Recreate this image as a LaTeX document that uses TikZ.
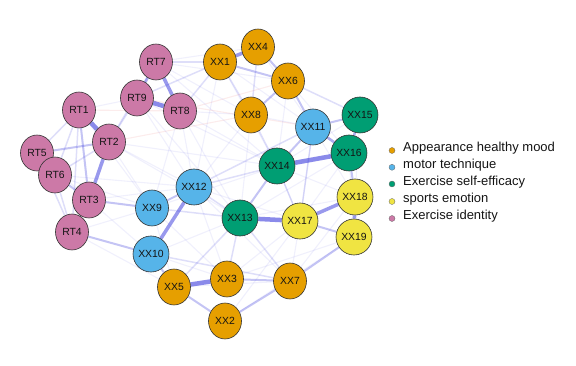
\documentclass[tikz,border=0pt]{standalone}
\usepackage{fontspec}
\setmainfont{Liberation Sans}
\usetikzlibrary{shapes.geometric}
\pgfdeclarelayer{background}
\pgfsetlayers{background,main}
\definecolor{cO}{HTML}{E69F00}
\definecolor{cB}{HTML}{56B4E9}
\definecolor{cG}{HTML}{009E73}
\definecolor{cY}{HTML}{F0E442}
\definecolor{cP}{HTML}{CC79A7}
\definecolor{edgeblue}{RGB}{60,60,220}
\definecolor{edgered}{RGB}{225,70,70}
\definecolor{txt}{RGB}{20,20,20}
\begin{document}
\begin{tikzpicture}[x=1pt,y=-1pt,
  nd/.style={ellipse, draw=black!80, line width=0.6pt, minimum width=33pt, minimum height=36pt,
    inner sep=0pt, text=txt, font=\fontsize{10.4}{11}\selectfont},
  nO/.style={nd, fill=cO}, nB/.style={nd, fill=cB}, nG/.style={nd, fill=cG},
  nY/.style={nd, fill=cY}, nP/.style={nd, fill=cP},
  e5/.style={draw=edgeblue, line width=4.5pt, draw opacity=0.6},
  e4/.style={draw=edgeblue, line width=3.5pt, draw opacity=0.52},
  e3/.style={draw=edgeblue, line width=2.6pt, draw opacity=0.42},
  e2/.style={draw=edgeblue, line width=2pt, draw opacity=0.3},
  e1/.style={draw=edgeblue, line width=1.5pt, draw opacity=0.17},
  e0/.style={draw=edgeblue, line width=1.1pt, draw opacity=0.08},
  er/.style={draw=edgered, line width=1.1pt, draw opacity=0.1},
  ldot/.style={circle, draw=black!60, line width=0.3pt, minimum size=6pt, inner sep=0pt},
  ltxt/.style={anchor=west, inner sep=0pt, text=txt, font=\fontsize{13}{14}\selectfont}]
\useasboundingbox (0,0) rectangle (576,366);
% nodes
\node[nP] (RT7) at (156,62) {RT7};
\node[nP] (RT9) at (137,98) {RT9};
\node[nP] (RT8) at (180,111) {RT8};
\node[nP] (RT1) at (79,110) {RT1};
\node[nP] (RT2) at (109,142) {RT2};
\node[nP] (RT5) at (37,153) {RT5};
\node[nP] (RT6) at (55,175) {RT6};
\node[nP] (RT3) at (89,200) {RT3};
\node[nP] (RT4) at (72,232) {RT4};
\node[nO] (XX4) at (258,47) {XX4};
\node[nO] (XX1) at (220,62) {XX1};
\node[nO] (XX6) at (288,81) {XX6};
\node[nO] (XX8) at (251,115) {XX8};
\node[nB] (XX11) at (313,127) {XX11};
\node[nG] (XX15) at (360,115) {XX15};
\node[nG] (XX16) at (349,153) {XX16};
\node[nG] (XX14) at (277,166) {XX14};
\node[nY] (XX18) at (355,197) {XX18};
\node[nB] (XX12) at (194,187) {XX12};
\node[nB] (XX9) at (152,208) {XX9};
\node[nG] (XX13) at (240,218) {XX13};
\node[nY] (XX17) at (300,221) {XX17};
\node[nY] (XX19) at (354,237) {XX19};
\node[nB] (XX10) at (151,254) {XX10};
\node[nO] (XX5) at (174,287) {XX5};
\node[nO] (XX3) at (227,279) {XX3};
\node[nO] (XX7) at (290,281) {XX7};
\node[nO] (XX2) at (225,321) {XX2};
% edges
\begin{pgfonlayer}{background}
\foreach \a/\b in {RT3/XX12, RT6/XX12, RT2/XX12, RT8/XX8, RT8/XX14, RT9/XX12, RT7/XX8,
  XX1/XX14, XX4/XX11, XX8/XX11, XX14/XX17, XX14/XX18, XX16/XX17, XX11/XX17, XX13/XX16,
  XX12/XX17, XX9/XX5, XX9/XX3, XX10/XX3, XX12/XX3, XX3/XX17, XX7/XX17, XX2/XX19, XX7/XX18,
  XX15/XX18, XX15/XX14, RT2/XX9, RT8/XX12, RT8/XX13, RT7/XX6, RT1/XX9, RT5/RT3, RT4/XX5,
  RT3/XX10, XX1/XX11, XX6/XX16, XX8/XX13, XX8/XX12, RT9/XX14, RT2/XX14, RT6/XX9, RT1/RT9,
  RT7/XX4, XX1/XX12, XX2/XX17, XX3/XX19, XX10/XX13, XX9/XX14, XX12/XX7, RT4/XX9, RT8/XX9,
  XX6/XX14, XX11/XX18, XX16/XX19, XX13/XX18, XX5/XX7, RT9/XX13, RT7/XX14, RT2/XX13}
  \draw[e0] (\a) -- (\b);
\foreach \a/\b in {RT2/RT9, RT2/RT7, RT6/RT2, RT1/RT6, RT5/RT4, RT6/RT4, RT1/RT5, RT7/XX1,
  XX12/XX14, XX9/XX13, XX12/XX13, XX13/XX7, XX10/XX7, XX5/XX13, XX1/XX8, XX6/XX15,
  XX8/XX14, XX12/XX11, XX3/XX13, RT1/RT4, RT9/XX1, RT8/XX1, XX14/XX17, XX11/XX17, XX4/XX8}
  \draw[e1] (\a) -- (\b);
\foreach \a/\b in {XX4/XX6, XX1/XX6, XX6/XX8, XX6/XX11, XX11/XX15, XX11/XX14, XX16/XX18,
  XX17/XX19, XX13/XX14, XX9/XX12, XX10/XX5, XX5/XX2, XX3/XX7, XX2/XX7, XX7/XX19,
  RT3/XX9, RT4/XX10, RT1/RT3, RT5/RT2, RT3/RT4, RT5/RT6, RT6/RT3}
  \draw[e2] (\a) -- (\b);
\foreach \a/\b in {RT7/RT9, XX15/XX16, XX11/XX16}
  \draw[e3] (\a) -- (\b);
\foreach \a/\b in {RT7/RT8, XX10/XX12, XX1/XX4, XX18/XX19, XX17/XX18, RT2/RT3}
  \draw[e4] (\a) -- (\b);
\foreach \a/\b in {RT9/RT8, RT1/RT2, XX5/XX3, XX13/XX17, XX14/XX16}
  \draw[e5] (\a) -- (\b);
\foreach \a/\b in {RT1/RT8, RT8/XX6, RT9/XX11, RT2/XX8}
  \draw[er] (\a) -- (\b);
\end{pgfonlayer}
% legend
\node[ldot, fill=cO] (d1) at (392,150.5) {};
\node[ldot, fill=cB] (d2) at (392,167.3) {};
\node[ldot, fill=cG] (d3) at (392,184) {};
\node[ldot, fill=cY] (d4) at (392,201.5) {};
\node[ldot, fill=cP] (d5) at (392,218.5) {};
\node[ltxt] (l1) at (403,148.5) {Appearance healthy mood};
\node[ltxt] (l2) at (403,165.3) {motor technique};
\node[ltxt] (l3) at (403,182) {Exercise self-efficacy};
\node[ltxt] (l4) at (403,199.5) {sports emotion};
\node[ltxt] (l5) at (403,216.5) {Exercise identity};
\end{tikzpicture}
\end{document}
